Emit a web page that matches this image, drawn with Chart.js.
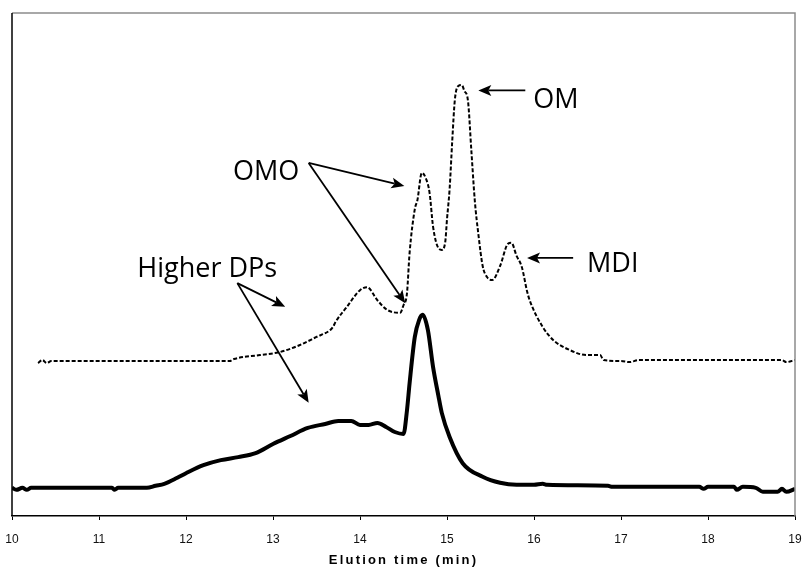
<!DOCTYPE html>
<html>
<head>
<meta charset="utf-8">
<script src="https://cdn.jsdelivr.net/npm/chart.js@4.4.0/dist/chart.umd.min.js"></script>
<style>
  body { margin: 0; background: #fff; }
  #wrap { width: 804px; height: 579px; }
</style>
</head>
<body>
<div id="wrap"><canvas id="grafico"></canvas></div>
<script>
// elution time (min) and detector signal
const solidTimes = [10.0, 10.05, 10.12, 10.17, 10.22, 11.15, 11.18, 11.22, 11.55, 11.65, 11.75, 11.9, 12.0, 12.2, 12.4, 12.6, 12.8,
  13.0, 13.2, 13.4, 13.6, 13.75, 13.9, 14.0, 14.1, 14.2, 14.3, 14.4, 14.5, 14.54, 14.57, 14.63, 14.68, 14.72, 14.78, 14.84,
  14.9, 14.94, 15.03, 15.18, 15.41, 15.61, 15.8, 16.0, 16.1, 16.15, 16.85, 16.9, 17.9, 17.95, 18.0, 18.3, 18.33, 18.4,
  18.55, 18.63, 18.8, 18.85, 18.9, 19.0];
const solidSignal = [5.6, 5.2, 5.6, 5.2, 5.6, 5.6, 5.2, 5.6, 5.6, 6.0, 6.4, 7.6, 8.5, 10.1, 11.1, 11.7, 12.5,
  14.3, 15.9, 17.5, 18.3, 18.9, 18.9, 18.1, 18.1, 18.5, 17.7, 16.7, 16.3, 21.0, 26.4, 35.6, 39.0, 40.0, 37.0, 29.6,
  24.0, 20.5, 15.7, 10.5, 7.8, 6.6, 6.2, 6.2, 6.4, 6.2, 6.0, 5.8, 5.8, 5.4, 5.8, 5.8, 5.2, 5.8,
  5.6, 4.8, 4.8, 5.4, 4.8, 5.4];

const dashedTimes = [10.3, 10.35, 10.4, 10.45, 12.5, 12.55, 12.85, 13.08, 13.31, 13.5, 13.66, 13.69, 13.72, 13.85, 14.0,
  14.08, 14.2, 14.31, 14.46, 14.5, 14.54, 14.57, 14.63, 14.66, 14.71, 14.76, 14.8, 14.84, 14.9, 14.94, 14.98, 15.0, 15.03,
  15.06, 15.09, 15.13, 15.17, 15.2, 15.24, 15.28, 15.32, 15.36, 15.41, 15.46, 15.52, 15.61, 15.7, 15.74, 15.8, 15.86,
  15.92, 15.95, 16.1, 16.22, 16.41, 16.6, 16.76, 16.8, 17.0, 17.1, 17.2, 18.85, 18.9, 19.0];
const dashedSignal = [30.4, 31.0, 30.4, 30.8, 30.8, 31.2, 32.0, 32.6, 34.0, 35.6, 37.0, 37.6, 38.6, 41.6, 44.9,
  45.5, 42.9, 41.0, 40.4, 41.9, 44.3, 52.3, 61.0, 62.8, 68.2, 67.0, 64.2, 57.5, 53.3, 52.9, 54.5, 59.0, 65.0,
  74.5, 82.7, 85.5, 85.7, 84.5, 82.7, 72.6, 62.6, 56.1, 49.7, 47.5, 46.9, 49.7, 54.1, 54.3, 51.7, 49.5,
  44.7, 42.9, 37.6, 35.0, 33.0, 32.0, 32.0, 31.0, 30.8, 30.6, 31.0, 31.0, 30.6, 31.0];

const xTicks = [10, 11, 12, 13, 14, 15, 16, 17, 18, 19];

// labels and arrows, in axis units
const labelTexts = ["OMO", "Higher DPs", "OM", "MDI"];
const labelX = [12.54, 11.44, 15.99, 16.61];
const labelY = [66.8, 47.5, 81.1, 48.5];

const arrowFromX = [15.90, 16.45, 13.41, 13.41, 12.59, 12.59];
const arrowFromY = [84.6, 51.3, 70.2, 70.2, 46.3, 46.3];
const arrowToX = [15.36, 15.92, 14.51, 14.52, 13.14, 13.41];
const arrowToY = [84.6, 51.3, 65.6, 42.3, 41.6, 22.5];

function desenharSeta(ctx, x1, y1, x2, y2) {
  const ang = Math.atan2(y2 - y1, x2 - x1);
  const len = 13, half = 5.5, notch = 3;
  const bx = x2 - Math.cos(ang) * (len - notch), by = y2 - Math.sin(ang) * (len - notch);
  ctx.beginPath();
  ctx.moveTo(x1, y1);
  ctx.lineTo(bx, by);
  ctx.stroke();
  const cx = x2 - Math.cos(ang) * len, cy = y2 - Math.sin(ang) * len;
  ctx.beginPath();
  ctx.moveTo(x2, y2);
  ctx.lineTo(cx - Math.sin(ang) * half, cy + Math.cos(ang) * half);
  ctx.lineTo(bx, by);
  ctx.lineTo(cx + Math.sin(ang) * half, cy - Math.cos(ang) * half);
  ctx.closePath();
  ctx.fill();
}

const anotacoes = {
  id: 'anotacoes',
  afterDraw(chart) {
    const { ctx, chartArea: a, scales: { x, y } } = chart;
    ctx.save();

    // plot frame: grey on top/right, black on the left
    ctx.lineWidth = 1.5;
    ctx.strokeStyle = '#8c8c8c';
    ctx.beginPath();
    ctx.moveTo(a.left, a.top);
    ctx.lineTo(a.right, a.top);
    ctx.lineTo(a.right, a.bottom);
    ctx.stroke();
    ctx.strokeStyle = '#000';
    ctx.beginPath();
    ctx.moveTo(a.left, a.top);
    ctx.lineTo(a.left, a.bottom);
    ctx.stroke();

    // arrows
    ctx.lineWidth = 1.8;
    ctx.fillStyle = '#000';
    arrowFromX.forEach((fx, i) => {
      desenharSeta(ctx, x.getPixelForValue(fx), y.getPixelForValue(arrowFromY[i]),
        x.getPixelForValue(arrowToX[i]), y.getPixelForValue(arrowToY[i]));
    });

    // labels
    ctx.font = '27px "Open Sans"';
    ctx.textAlign = 'left';
    ctx.textBaseline = 'alphabetic';
    labelTexts.forEach((t, i) => {
      ctx.fillText(t, x.getPixelForValue(labelX[i]), y.getPixelForValue(labelY[i]));
    });

    // axis title
    ctx.font = 'bold 13px "Liberation Sans"';
    ctx.letterSpacing = '2.2px';
    ctx.textAlign = 'center';
    ctx.fillText('Elution time (min)', (a.left + a.right) / 2, 564);
    ctx.restore();
  }
};

new Chart(document.getElementById('grafico'), {
  type: 'line',
  data: {
    datasets: [{
      data: dashedTimes.map((t, i) => ({ x: t, y: dashedSignal[i] })),
      borderColor: '#000',
      borderWidth: 2,
      borderDash: [4, 2],
      pointRadius: 0,
      cubicInterpolationMode: 'monotone'
    }, {
      data: solidTimes.map((t, i) => ({ x: t, y: solidSignal[i] })),
      borderColor: '#000',
      borderWidth: 4,
      pointRadius: 0,
      cubicInterpolationMode: 'monotone'
    }]
  },
  options: {
    responsive: true,
    maintainAspectRatio: false,
    animation: false,
    layout: { padding: { left: 12, right: 9, top: 13, bottom: 20.6 } },
    plugins: { legend: { display: false }, tooltip: { enabled: false } },
    scales: {
      x: {
        type: 'linear',
        min: 10,
        max: 19,
        afterBuildTicks: scale => { scale.ticks = xTicks.map(v => ({ value: v })); },
        afterFit: scale => { scale.paddingLeft = 0; scale.paddingRight = 0; },
        grid: { drawOnChartArea: false, drawTicks: true, tickLength: 4, color: '#000' },
        border: { color: '#000', width: 1.5 },
        ticks: { color: '#111', font: { family: '"Liberation Sans"', size: 12 }, padding: 12, maxRotation: 0 }
      },
      y: { display: false, min: 0, max: 100 }
    }
  },
  plugins: [anotacoes]
});
</script>
</body>
</html>
